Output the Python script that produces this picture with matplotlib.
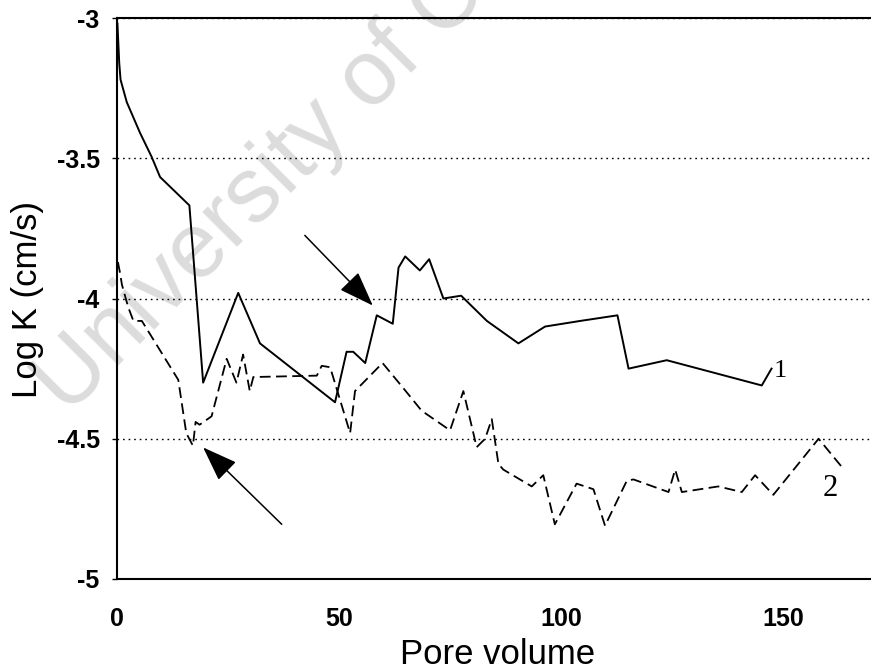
import matplotlib
matplotlib.use('Agg')
import matplotlib.pyplot as plt

plt.rcParams['font.family'] = ['Liberation Sans', 'DejaVu Sans']
plt.rcParams['axes.unicode_minus'] = False

# column 1 (solid) and column 2 (dashed): log hydraulic conductivity vs pore volumes
pv_1 = [0.1, 0.5, 0.8, 2.2, 5.2, 7.8, 9.7, 16.3, 19.4, 27.3, 32.2, 49.1, 51.7, 53.2,
        55.9, 58.5, 62.1, 63.4, 64.9, 68.2, 70.3, 73.5, 77.5, 83.3, 90.4, 96.4,
        104.3, 112.7, 115.2, 123.8, 145.2, 147.4]
logk_1 = [-3.02, -3.16, -3.22, -3.30, -3.41, -3.495, -3.567, -3.668, -4.30, -3.98,
          -4.16, -4.37, -4.19, -4.19, -4.23, -4.06, -4.09, -3.89, -3.85, -3.90,
          -3.86, -4.00, -3.99, -4.08, -4.16, -4.10, -4.08, -4.06, -4.25, -4.22,
          -4.31, -4.25]

pv_2 = [0.2, 0.7, 1.1, 2.5, 3.7, 5.6, 13.8, 15.6, 17.1, 17.7, 18.6, 21.3, 24.7, 26.9,
        28.4, 29.9, 30.7, 45.0, 46.1, 48.0, 52.5, 53.6, 59.8, 64.5, 68.6, 75.0,
        78.0, 81.0, 82.9, 84.4, 85.9, 87.0, 93.4, 96.0, 98.6, 103.5, 107.3, 109.9,
        114.8, 116.3, 124.2, 125.7, 127.2, 135.4, 140.7, 143.7, 147.8, 158.0, 163.2]
logk_2 = [-3.87, -3.91, -3.95, -4.03, -4.08, -4.08, -4.29, -4.48, -4.525, -4.44,
          -4.45, -4.42, -4.215, -4.30, -4.20, -4.33, -4.28, -4.275, -4.24, -4.245,
          -4.48, -4.33, -4.23, -4.32, -4.40, -4.47, -4.33, -4.53, -4.50, -4.43,
          -4.59, -4.61, -4.67, -4.63, -4.805, -4.66, -4.68, -4.81, -4.65, -4.645,
          -4.69, -4.61, -4.69, -4.67, -4.69, -4.63, -4.70, -4.50, -4.60]

x_ticks = [0, 50, 100, 150]
y_ticks = [-5, -4.5, -4, -3.5, -3]
y_labels = ['-5', '-4.5', '-4', '-3.5', '-3']

# arrows: (tail, head) in data units
arrow_1 = ((42.3, -3.775), (57.6, -4.025))
arrow_2 = ((37.1, -4.805), (19.4, -4.531))

fig = plt.figure(figsize=(8.71, 6.71), dpi=100)
ax = fig.add_axes([117 / 871, 1 - 579 / 671, 1 - 117 / 871, 561 / 671])
ax.patch.set_visible(False)

fig.text(0.078, 0.3785, 'University of Cape Town', rotation=45, rotation_mode='anchor',
         ha='left', va='baseline', fontsize=66, color='#dcdcdc', zorder=-5)

ax.plot(pv_1, logk_1, color='black', lw=1.4)
ax.plot(pv_2, logk_2, color='black', lw=1.3, linestyle=(0, (6, 3)))

for tail, head in (arrow_1, arrow_2):
    ax.annotate('', xy=head, xytext=tail,
                arrowprops=dict(arrowstyle='-|>,head_length=22,head_width=8',
                                mutation_scale=1, color='black', lw=1.1,
                                shrinkA=0, shrinkB=0))

ax.text(149.3, -4.257, '1', family='Liberation Serif', fontsize=19, ha='center', va='center')
ax.text(160.6, -4.677, '2', family='Liberation Serif', fontsize=22, ha='center', va='center')

ax.set_xlim(0, 169.8)
ax.set_ylim(-5, -3)
ax.set_xticks(x_ticks)
ax.set_yticks(y_ticks)
ax.set_yticklabels(y_labels)
ax.grid(axis='y', color='black', lw=1.0, linestyle=(0, (1.2, 2.8)))

ax.spines['right'].set_visible(False)
for side in ('top', 'left', 'bottom'):
    ax.spines[side].set_linewidth(1.5)

ax.tick_params(axis='y', direction='out', length=3.5, width=1, pad=9, labelsize=18)
ax.tick_params(axis='x', length=0, pad=20, labelsize=18)
for lbl in ax.get_xticklabels() + ax.get_yticklabels():
    lbl.set_fontweight('bold')

fig.text(498 / 871, 1 - 664 / 671, 'Pore volume', ha='center', va='baseline', fontsize=25)
fig.text(28 / 871, 1 - 299 / 671, 'Log K (cm/s)', rotation=90, ha='center', va='center',
         fontsize=25)

fig.savefig('out.png', dpi=100)
